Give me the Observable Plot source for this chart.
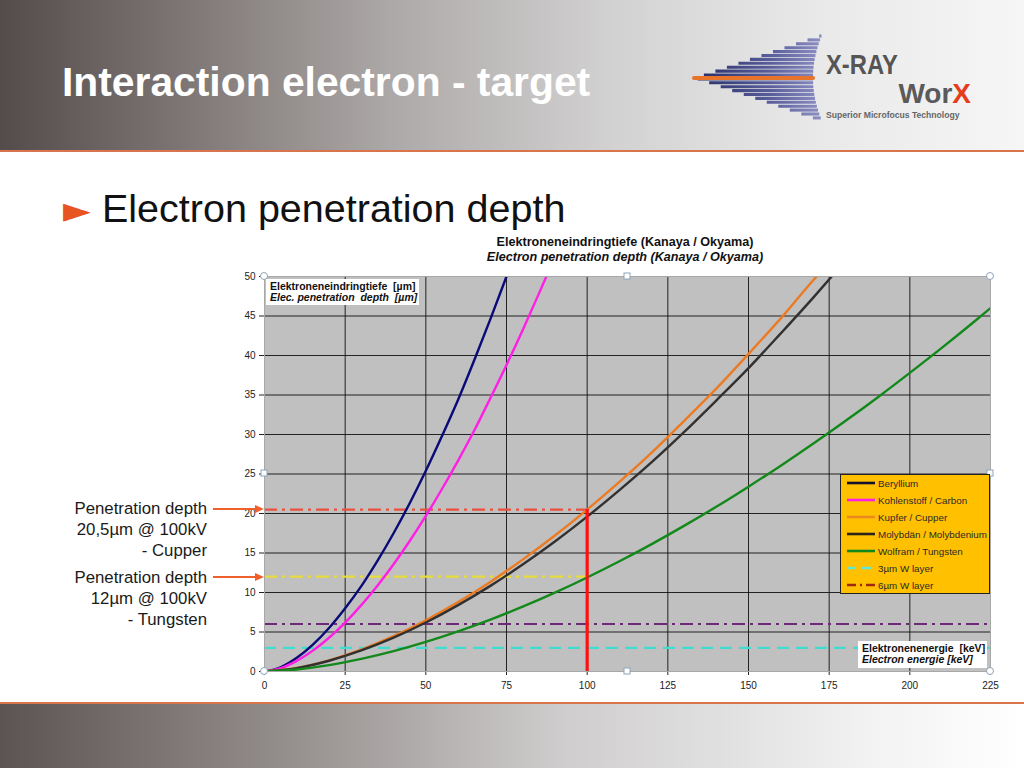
<!DOCTYPE html>
<html>
<head>
<meta charset="utf-8">
<script src="https://cdn.jsdelivr.net/npm/d3@7"></script>
<script src="https://cdn.jsdelivr.net/npm/@observablehq/plot@0.6"></script>
<style>
  html, body { margin: 0; padding: 0; background: #fff; }
  #page { position: relative; width: 1024px; height: 768px; overflow: hidden; font-family: Arial, "Liberation Sans", sans-serif; }
  .abs { position: absolute; }
  #legend { left: 840px; top: 474px; width: 150px; height: 120px; background: #FFC000; border: 1px solid #222; box-sizing: border-box; }
  .lrow { position: absolute; left: 6px; height: 12px; display: flex; align-items: center; font-size: 9.8px; color: #2a2a2a; white-space: nowrap; }
  .lrow svg { margin-right: 3px; }
  .axbox { background: #fff; font-size: 10.5px; font-weight: bold; color: #111; line-height: 11px; padding: 2px 4px; box-sizing: border-box; white-space: nowrap; }
</style>
</head>
<body>
<div id="page">
  <svg id="bg" class="abs" style="left:0;top:0" width="1024" height="768"></svg>
  <div id="chart" class="abs" style="left:0;top:266px"></div>
  <svg id="over" class="abs" style="left:0;top:0;pointer-events:none" width="1024" height="768"></svg>
  <div class="abs axbox" style="left:266px;top:279px;width:153px;height:26px">Elektroneneindringtiefe&nbsp; [µm]<br><i>Elec. penetration&nbsp; depth&nbsp; [µm]</i></div>
  <div class="abs axbox" style="left:858px;top:641px;width:129px;height:27px">Elektronenenergie&nbsp; [keV]<br><i>Electron energie [keV]</i></div>
  <div id="legend" class="abs"></div>
</div>
<script>
// ---------------- data ----------------
const xTicks = [0, 25, 50, 75, 100, 125, 150, 175, 200, 225];
const yTicks = [0, 5, 10, 15, 20, 25, 30, 35, 40, 45, 50];

const energyBe = [0, 5, 10, 15, 20, 25, 30, 35, 40, 45, 50, 55, 60, 65, 70, 75];
const depthBe  = [0, 0.54, 1.73, 3.4, 5.5, 8.0, 10.8, 14.0, 17.5, 21.3, 25.4, 29.8, 34.4, 39.4, 44.6, 50.0];

const energyC = [0, 5, 10, 15, 20, 25, 30, 35, 40, 45, 50, 55, 60, 65, 70, 75, 80, 85, 88];
const depthC  = [0, 0.42, 1.35, 2.64, 4.27, 6.19, 8.4, 10.86, 13.57, 16.52, 19.7, 23.1, 26.7, 30.5, 34.6, 38.8, 43.2, 47.8, 50.6];

const energyCu = [0, 10, 20, 30, 40, 50, 60, 70, 80, 90, 100, 110, 120, 130, 140, 150, 160, 170, 172];
const depthCu  = [0, 0.45, 1.42, 2.78, 4.48, 6.49, 8.78, 11.34, 14.16, 17.21, 20.5, 24.0, 27.7, 31.7, 35.8, 40.2, 44.7, 49.5, 50.4];

const energyMo = [0, 10, 20, 30, 40, 50, 60, 70, 80, 90, 100, 110, 120, 130, 140, 150, 160, 170, 176];
const depthMo  = [0, 0.43, 1.36, 2.66, 4.28, 6.2, 8.4, 10.84, 13.53, 16.45, 19.6, 22.96, 26.5, 30.3, 34.3, 38.4, 42.8, 47.3, 50.1];

const energyW = [0, 10, 20, 30, 40, 50, 60, 70, 80, 90, 100, 110, 120, 130, 140, 150, 160, 170, 180, 190, 200, 210, 220, 225];
const depthW  = [0, 0.26, 0.81, 1.6, 2.58, 3.75, 5.08, 6.57, 8.2, 9.98, 11.9, 13.95, 16.13, 18.43, 20.85, 23.4, 26.05, 28.82, 31.7, 34.69, 37.8, 40.99, 44.3, 46.0];

const seriesNames = ["Beryllium", "Kohlenstoff / Carbon", "Kupfer / Cupper", "Molybdän / Molybdenium", "Wolfram / Tungsten"];
const seriesColors = ["#0a0a78", "#ff1ee6", "#ec7a22", "#333030", "#12891a"];
const seriesLegendColors = ["#14102e", "#ff1ee6", "#e98a1c", "#2a2418", "#12891a"];

const layerNames = ["3µm W layer", "6µm W layer"];
const layerDepths = [3, 6];
const layerColors = ["#3fdcd0", "#6e2a78"];
const layerLegendColors = ["#5fe8d8", "#a0280e"];

const markerEnergy = 100;
const markerDepths = [20.5, 12];          // Cupper, Tungsten @ 100 kV
const markerColors = ["#e8503f", "#e6dc3c"];

// ---------------- build tables ----------------
const curves = [];
[[energyBe, depthBe], [energyC, depthC], [energyCu, depthCu], [energyMo, depthMo], [energyW, depthW]]
  .forEach(([es, ds], i) => es.forEach((e, k) => curves.push({series: seriesNames[i], e, d: ds[k]})));
const layers = layerDepths.map((d, i) => ({name: layerNames[i], d, x1: xTicks[0], x2: xTicks[xTicks.length - 1]}));
const markers = markerDepths.map((d, i) => ({d, x1: 0, x2: markerEnergy, c: markerColors[i]}));
const vertical = [{e: markerEnergy, y1: 0, y2: markerDepths[0]}];

// ---------------- chart ----------------
const chart = Plot.plot({
  width: 1024, height: 430,
  marginLeft: 264, marginRight: 34, marginTop: 10, marginBottom: 25,
  style: {fontFamily: "Arial, 'Liberation Sans', sans-serif", fontSize: "10px", color: "#222", background: "transparent", overflow: "visible"},
  x: {domain: [0, 225], ticks: xTicks, tickSize: 4, tickPadding: 6, label: null},
  y: {domain: [0, 50], ticks: yTicks, tickSize: 5, tickPadding: 4, label: null},
  color: {domain: seriesNames, range: seriesColors},
  marks: [
    Plot.frame({fill: "#c0c0c0", stroke: null}),
    Plot.gridX(xTicks, {stroke: "#111", strokeOpacity: 1, strokeWidth: 0.9}),
    Plot.gridY(yTicks, {stroke: "#111", strokeOpacity: 1, strokeWidth: 0.9}),
    Plot.ruleY(markers, {y: "d", x1: "x1", x2: "x2", stroke: "c", strokeWidth: 2.2, strokeDasharray: "13,5,3,5"}),
    Plot.ruleY(layers.slice(0, 1), {y: "d", x1: "x1", x2: "x2", stroke: layerColors[0], strokeWidth: 2.2, strokeDasharray: "12,7"}),
    Plot.ruleY(layers.slice(1), {y: "d", x1: "x1", x2: "x2", stroke: layerColors[1], strokeWidth: 2, strokeDasharray: "13,5,3,5"}),
    Plot.line(curves, {x: "e", y: "d", z: "series", stroke: "series", strokeWidth: 2.4, curve: "monotone-x", clip: true}),
    Plot.ruleX(vertical, {x: "e", y1: "y1", y2: "y2", stroke: "#ff1010", strokeWidth: 3.2}),
    Plot.frame({stroke: "#a8a8a8", strokeWidth: 1})
  ]
});
document.getElementById("chart").appendChild(chart);

// ---------------- legend ----------------
const legend = document.getElementById("legend");
const legendItems = seriesNames.map((n, i) => ({n, c: seriesLegendColors[i], dash: null}))
  .concat([{n: layerNames[0], c: layerLegendColors[0], dash: "9,6"}, {n: layerNames[1], c: layerLegendColors[1], dash: "9,4,2,4"}]);
legendItems.forEach((it, i) => {
  const row = document.createElement("div");
  row.className = "lrow";
  row.style.top = (2 + i * 17) + "px";
  row.innerHTML = `<svg width="28" height="6"><line x1="0" x2="28" y1="3" y2="3" stroke="${it.c}" stroke-width="2.6" ${it.dash ? `stroke-dasharray="${it.dash}"` : ""}/></svg><span>${it.n}</span>`;
  legend.appendChild(row);
});

// ---------------- slide decoration ----------------
const NS = "http://www.w3.org/2000/svg";
const bg = document.getElementById("bg");
bg.innerHTML = `
<defs>
  <linearGradient id="hg" x1="0" x2="1" y1="0" y2="0">
    <stop offset="0" stop-color="#544c4a"/>
    <stop offset="0.18" stop-color="#7d7674"/>
    <stop offset="0.38" stop-color="#aca8a7"/>
    <stop offset="0.6" stop-color="#d3d2d2"/>
    <stop offset="0.8" stop-color="#e9e9e9"/>
    <stop offset="1" stop-color="#f6f6f6"/>
  </linearGradient>
  <linearGradient id="fg" x1="0" x2="1" y1="0" y2="0">
    <stop offset="0" stop-color="#5c5452"/>
    <stop offset="0.25" stop-color="#8e8886"/>
    <stop offset="0.55" stop-color="#cfcdcd"/>
    <stop offset="0.85" stop-color="#f2f2f2"/>
    <stop offset="1" stop-color="#ffffff"/>
  </linearGradient>
  <linearGradient id="sg" gradientUnits="userSpaceOnUse" x1="695" x2="822" y1="0" y2="0">
    <stop offset="0" stop-color="#262c66"/>
    <stop offset="0.6" stop-color="#5a5f9c"/>
    <stop offset="1" stop-color="#8e90c4"/>
  </linearGradient>
</defs>
<rect x="0" y="0" width="1024" height="150" fill="url(#hg)"/>
<rect x="0" y="150" width="1024" height="2" fill="#d9744c"/>
<rect x="0" y="704" width="1024" height="64" fill="url(#fg)"/>
<rect x="0" y="702" width="1024" height="2" fill="#d9744c"/>
<text x="62" y="96" fill="#fff" font-size="40.8" font-weight="bold" font-family="Arial, 'Liberation Sans', sans-serif">Interaction electron - target</text>
<text x="63" y="222" fill="#e8541f" font-size="36" font-family="'DejaVu Sans', Arial, sans-serif">►</text>
<text x="102" y="222" fill="#111" font-size="39.5" font-family="Arial, 'Liberation Sans', sans-serif">Electron penetration depth</text>
<text x="625" y="246" text-anchor="middle" fill="#111" font-size="12.6" font-weight="bold" font-family="Arial, 'Liberation Sans', sans-serif">Elektroneneindringtiefe (Kanaya / Okyama)</text>
<text x="625" y="261" text-anchor="middle" fill="#111" font-size="12.6" font-weight="bold" font-style="italic" font-family="Arial, 'Liberation Sans', sans-serif">Electron penetration depth (Kanaya / Okyama)</text>
`;
// logo stripes (decoration)
const logo = document.createElementNS(NS, "g");
for (let y = 36; y <= 121; y += 3.9) {
  const t = Math.abs(y - 78) / 43;
  const xl = 695 + 127 * t;
  const xr = 822 - 9 * (1 - t * t);
  if (xr - xl < 2) continue;
  const l = document.createElementNS(NS, "line");
  l.setAttribute("x1", xl); l.setAttribute("x2", xr);
  l.setAttribute("y1", y); l.setAttribute("y2", y);
  l.setAttribute("stroke", "url(#sg)"); l.setAttribute("stroke-width", "3.1");
  logo.appendChild(l);
}
const ol = document.createElementNS(NS, "line");
ol.setAttribute("x1", 694); ol.setAttribute("x2", 813); ol.setAttribute("y1", 78); ol.setAttribute("y2", 78);
ol.setAttribute("stroke", "#e8742c"); ol.setAttribute("stroke-width", "4"); ol.setAttribute("stroke-linecap", "round");
logo.appendChild(ol);
bg.appendChild(logo);
bg.insertAdjacentHTML("beforeend", `
<text transform="translate(826,74) scale(0.85,1)" fill="#555" font-size="28" font-weight="bold" font-family="Arial, 'Liberation Sans', sans-serif">X-RAY</text>
<text x="971" y="103" text-anchor="end" fill="#5a5a5a" font-size="28" font-weight="bold" font-family="Arial, 'Liberation Sans', sans-serif">Wor<tspan fill="#e63c1c">X</tspan></text>
<text x="826" y="118" fill="#666" font-size="8.6" font-weight="bold" font-family="Arial, 'Liberation Sans', sans-serif">Superior Microfocus Technology</text>
`);

// annotations + chart handles
const over = document.getElementById("over");
over.innerHTML = `
<g font-family="Arial, 'Liberation Sans', sans-serif" font-size="16.8" fill="#1a1a1a" text-anchor="end">
  <text x="207" y="514">Penetration depth</text>
  <text x="207" y="535">20,5µm @ 100kV</text>
  <text x="207" y="556">- Cupper</text>
  <text x="207" y="583">Penetration depth</text>
  <text x="207" y="604">12µm @ 100kV</text>
  <text x="207" y="625">- Tungsten</text>
</g>
<g stroke="#f0602a" stroke-width="1.8" fill="#f0602a">
  <line x1="213" x2="256" y1="509" y2="509"/>
  <path d="M264,509 L255,505 L255,513 Z" stroke="none"/>
  <line x1="213" x2="256" y1="577" y2="577"/>
  <path d="M264,577 L255,573 L255,581 Z" stroke="none"/>
</g>
<g fill="#fff" stroke="#8fa3b8" stroke-width="1">
  <circle cx="264" cy="276" r="3.5"/><circle cx="990" cy="276" r="3.5"/>
  <circle cx="264" cy="671" r="3.5"/><circle cx="990" cy="671" r="3.5"/>
  <rect x="624" y="273" width="6" height="6"/><rect x="624" y="668" width="6" height="6"/>
  <rect x="261" y="470" width="6" height="6"/><rect x="987" y="470" width="6" height="6"/>
</g>
`;
</script>
</body>
</html>
